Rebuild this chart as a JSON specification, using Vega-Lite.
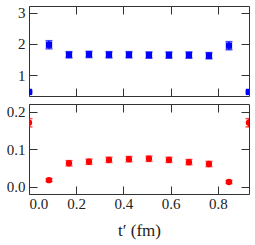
{
  "$schema": "https://vega.github.io/schema/vega-lite/v6.json",
  "padding": {"left": 5, "top": 5, "right": 5, "bottom": 5},
  "background": "white",
  "datasets": {
    "top": [
      {"t": 0.0, "v": 0.46, "lo": 0.43, "hi": 0.49},
      {"t": 0.0847, "v": 1.97, "lo": 1.84, "hi": 2.10},
      {"t": 0.1694, "v": 1.65, "lo": 1.55, "hi": 1.75},
      {"t": 0.2541, "v": 1.66, "lo": 1.56, "hi": 1.76},
      {"t": 0.3388, "v": 1.65, "lo": 1.55, "hi": 1.75},
      {"t": 0.4235, "v": 1.65, "lo": 1.55, "hi": 1.75},
      {"t": 0.5082, "v": 1.64, "lo": 1.54, "hi": 1.74},
      {"t": 0.5929, "v": 1.64, "lo": 1.54, "hi": 1.74},
      {"t": 0.6776, "v": 1.64, "lo": 1.54, "hi": 1.74},
      {"t": 0.7624, "v": 1.62, "lo": 1.52, "hi": 1.72},
      {"t": 0.8471, "v": 1.94, "lo": 1.81, "hi": 2.07},
      {"t": 0.9318, "v": 0.46, "lo": 0.43, "hi": 0.49}
    ],
    "bottom": [
      {"t": 0.0, "v": 0.171, "lo": 0.160, "hi": 0.182},
      {"t": 0.0847, "v": 0.018, "lo": 0.014, "hi": 0.022},
      {"t": 0.1694, "v": 0.063, "lo": 0.056, "hi": 0.070},
      {"t": 0.2541, "v": 0.067, "lo": 0.060, "hi": 0.074},
      {"t": 0.3388, "v": 0.072, "lo": 0.065, "hi": 0.079},
      {"t": 0.4235, "v": 0.074, "lo": 0.067, "hi": 0.081},
      {"t": 0.5082, "v": 0.075, "lo": 0.068, "hi": 0.082},
      {"t": 0.5929, "v": 0.072, "lo": 0.065, "hi": 0.079},
      {"t": 0.6776, "v": 0.066, "lo": 0.059, "hi": 0.073},
      {"t": 0.7624, "v": 0.061, "lo": 0.054, "hi": 0.068},
      {"t": 0.8471, "v": 0.013, "lo": 0.009, "hi": 0.017},
      {"t": 0.9318, "v": 0.171, "lo": 0.160, "hi": 0.182}
    ]
  },
  "config": {
    "view": {"stroke": "#333", "strokeWidth": 1},
    "axis": {
      "grid": false,
      "domain": false,
      "tickSize": -8,
      "tickColor": "#333",
      "tickWidth": 1,
      "labelFont": "'Liberation Serif', 'DejaVu Serif', serif",
      "labelFontSize": 15,
      "labelColor": "#222",
      "titleFont": "'Liberation Serif', 'DejaVu Serif', serif",
      "titleFontSize": 17,
      "titleFontWeight": "normal",
      "titleColor": "#222"
    },
    "axisLeft": {"labelPadding": 12},
    "axisBottom": {"labelPadding": 10}
  },
  "spacing": 6,
  "vconcat": [
    {
      "width": 220,
      "height": 90,
      "data": {"name": "top"},
      "resolve": {"axis": {"x": "independent", "y": "independent"}},
      "layer": [
        {
          "mark": {"type": "rule", "color": "#0000ff", "strokeWidth": 1.5, "clip": true},
          "encoding": {
            "x": {"field": "t", "type": "quantitative", "scale": {"domain": [0, 0.932], "nice": false, "zero": false},
                  "axis": {"orient": "bottom", "values": [0, 0.2, 0.4, 0.6, 0.8], "labels": false, "title": null}},
            "y": {"field": "lo", "type": "quantitative", "scale": {"domain": [0.33, 3.21], "nice": false, "zero": false},
                  "axis": {"orient": "left", "values": [1, 2, 3], "format": "d", "title": null}},
            "y2": {"field": "hi"}
          }
        },
        {
          "mark": {"type": "tick", "color": "#0000ff", "orient": "horizontal", "size": 7, "thickness": 1.5, "clip": true},
          "encoding": {
            "x": {"field": "t", "type": "quantitative", "axis": null},
            "y": {"field": "lo", "type": "quantitative", "axis": null}
          }
        },
        {
          "mark": {"type": "tick", "color": "#0000ff", "orient": "horizontal", "size": 7, "thickness": 1.5, "clip": true},
          "encoding": {
            "x": {"field": "t", "type": "quantitative", "axis": null},
            "y": {"field": "hi", "type": "quantitative", "axis": null}
          }
        },
        {
          "mark": {"type": "point", "shape": "square", "filled": true, "color": "#0000ff", "opacity": 1, "size": 40, "clip": true},
          "encoding": {
            "x": {"field": "t", "type": "quantitative",
                  "axis": {"orient": "top", "values": [0, 0.2, 0.4, 0.6, 0.8], "labels": false, "title": null}},
            "y": {"field": "v", "type": "quantitative",
                  "axis": {"orient": "right", "values": [1, 2, 3], "labels": false, "title": null}}
          }
        }
      ]
    },
    {
      "width": 220,
      "height": 90,
      "data": {"name": "bottom"},
      "resolve": {"axis": {"x": "independent", "y": "independent"}},
      "layer": [
        {
          "mark": {"type": "rule", "color": "#ff0000", "strokeWidth": 1.5, "clip": true},
          "encoding": {
            "x": {"field": "t", "type": "quantitative", "scale": {"domain": [0, 0.932], "nice": false, "zero": false},
                  "axis": {"orient": "bottom", "values": [0, 0.2, 0.4, 0.6, 0.8], "format": ".1f", "title": "t′  (fm)", "titlePadding": 11}},
            "y": {"field": "lo", "type": "quantitative", "scale": {"domain": [-0.019, 0.221], "nice": false, "zero": false},
                  "axis": {"orient": "left", "values": [0, 0.1, 0.2], "format": ".1f", "title": null}},
            "y2": {"field": "hi"}
          }
        },
        {
          "mark": {"type": "tick", "color": "#ff0000", "orient": "horizontal", "size": 7, "thickness": 1.5, "clip": true},
          "encoding": {
            "x": {"field": "t", "type": "quantitative", "axis": null},
            "y": {"field": "lo", "type": "quantitative", "axis": null}
          }
        },
        {
          "mark": {"type": "tick", "color": "#ff0000", "orient": "horizontal", "size": 7, "thickness": 1.5, "clip": true},
          "encoding": {
            "x": {"field": "t", "type": "quantitative", "axis": null},
            "y": {"field": "hi", "type": "quantitative", "axis": null}
          }
        },
        {
          "mark": {"type": "point", "shape": "circle", "filled": true, "color": "#ff0000", "opacity": 1, "size": 40, "clip": true},
          "encoding": {
            "x": {"field": "t", "type": "quantitative",
                  "axis": {"orient": "top", "values": [0, 0.2, 0.4, 0.6, 0.8], "labels": false, "title": null}},
            "y": {"field": "v", "type": "quantitative",
                  "axis": {"orient": "right", "values": [0, 0.1, 0.2], "labels": false, "title": null}}
          }
        }
      ]
    }
  ]
}
